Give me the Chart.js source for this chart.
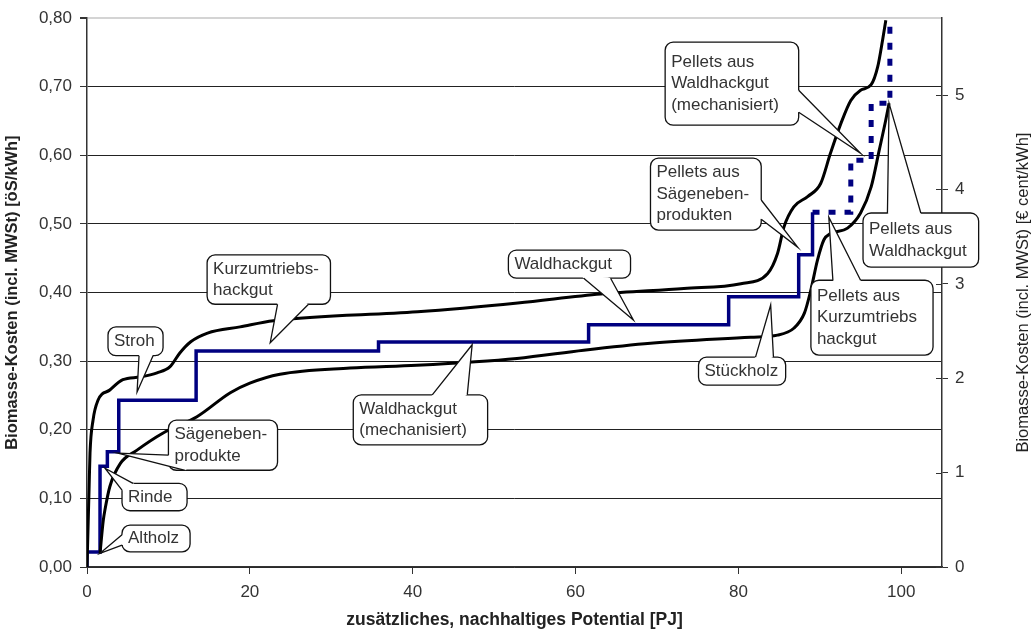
<!DOCTYPE html>
<html>
<head>
<meta charset="utf-8">
<script src="https://cdn.jsdelivr.net/npm/chart.js@4/dist/chart.umd.min.js"></script>
<style>
  html, body { margin: 0; padding: 0; background: #fff; }
  #wrap { width: 1033px; height: 631px; }
</style>
</head>
<body>
<div id="wrap"><canvas id="chart" width="1033" height="631"></canvas></div>
<script>
// Werte: x = Potential [PJ], y = Kosten [öS/kWh]

// obere Kostenkurve
const upperX = [0, 0.12, 0.25, 0.37, 0.74, 1.35, 2.8, 4.4, 6.5, 8.6, 10.2, 11.4, 12.7, 14.8, 18.8, 22.9,
  40.6, 52.9, 63.1, 73.3, 80.3, 83.6, 84.8, 85.6, 86.8, 88.5, 90.1, 91.3, 92.6, 93.8, 95.0, 96.3, 97.1, 97.7, 98.1];
const upperY = [0, 0.054, 0.112, 0.166, 0.214, 0.243, 0.258, 0.273, 0.277, 0.283, 0.292, 0.312, 0.328, 0.341, 0.35, 0.359,
  0.372, 0.385, 0.398, 0.406, 0.413, 0.428, 0.457, 0.496, 0.525, 0.54, 0.559, 0.603, 0.647, 0.68, 0.695, 0.703, 0.729, 0.768, 0.797];

// untere Kostenkurve
const lowerX = [1.6, 2.0, 2.2, 2.8, 4.1, 6.1, 9.3, 13.5, 17.6, 20.0, 23.7, 32.3, 40.5, 52.8, 61.0, 69.2, 81.5,
  84.8, 86.8, 88.1, 88.9, 89.7, 90.5, 91.3, 93.4, 95.0, 96.3, 97.3, 98.1, 98.5];
const lowerY = [0.02, 0.068, 0.083, 0.117, 0.151, 0.17, 0.195, 0.219, 0.254, 0.268, 0.281, 0.290, 0.294, 0.304, 0.316, 0.326, 0.335,
  0.338, 0.348, 0.37, 0.404, 0.447, 0.477, 0.486, 0.494, 0.516, 0.554, 0.608, 0.652, 0.676];

// Treppenkurve (Kosten je Biomasseart), Stufe endet bei x
const stepX = [0, 0, 1.6, 2.5, 3.9, 13.4, 35.8, 61.6, 78.8, 87.4, 89.1];
const stepY = [0, 0.022, 0.147, 0.168, 0.243, 0.315, 0.328, 0.353, 0.394, 0.455, 0.517];

// Pellets (strichliert)
const pelletX = [89.1, 93.8, 96.3, 98.6];
const pelletY = [0.517, 0.593, 0.676, 0.90];

const xTicks = [0, 20, 40, 60, 80, 100];
const euroTicks = [0, 1, 2, 3, 4, 5];
const euroRate = 13.7603; // öS je €

// Beschriftungen (Kasten, Keilbasis und Spitze in Datenkoordinaten)
const callouts = [
  { lines: ['Stroh'], box: [2.58, 0.350, 9.34, 0.308], base: [[6.39, 0.308], [8.11, 0.308]], tip: [6.15, 0.255] },
  { lines: ['Kurzumtriebs-', 'hackgut'], box: [14.75, 0.455, 29.9, 0.383], base: [[23.4, 0.383], [27.2, 0.383]], tip: [22.5, 0.327] },
  { lines: ['Sägeneben-', 'produkte'], box: [10.0, 0.214, 23.4, 0.141], base: [[10.0, 0.163], [12.05, 0.141]], tip: [3.8, 0.166] },
  { lines: ['Rinde'], box: [4.3, 0.122, 12.29, 0.082], base: [[4.3, 0.112], [5.65, 0.122]], tip: [2.21, 0.144] },
  { lines: ['Altholz'], box: [4.3, 0.061, 12.66, 0.022], base: [[4.3, 0.047], [4.3, 0.032]], tip: [1.6, 0.02] },
  { lines: ['Waldhackgut'], box: [51.75, 0.462, 66.75, 0.421], base: [[61.0, 0.421], [64.3, 0.421]], tip: [67.1, 0.360] },
  { lines: ['Waldhackgut', '(mechanisiert)'], box: [32.7, 0.251, 49.2, 0.178], base: [[42.4, 0.251], [46.7, 0.251]], tip: [47.3, 0.324] },
  { lines: ['Stückholz'], box: [75.1, 0.306, 85.8, 0.265], base: [[82.1, 0.306], [84.3, 0.306]], tip: [83.96, 0.382] },
  { lines: ['Pellets aus', 'Kurzumtriebs', 'hackgut'], box: [88.9, 0.418, 103.9, 0.309], base: [[91.6, 0.418], [95.0, 0.418]], tip: [91.1, 0.510] },
  { lines: ['Pellets aus', 'Waldhackgut'], box: [95.3, 0.516, 109.5, 0.437], base: [[98.3, 0.516], [102.4, 0.516]], tip: [98.5, 0.676] },
  { lines: ['Pellets aus', 'Sägeneben-', 'produkten'], box: [69.2, 0.596, 82.8, 0.491], base: [[82.8, 0.535], [82.8, 0.507]], tip: [87.3, 0.466] },
  { lines: ['Pellets aus', 'Waldhackgut', '(mechanisiert)'], box: [71.0, 0.765, 87.4, 0.644], base: [[87.4, 0.695], [87.4, 0.663]], tip: [95.0, 0.603] }
];

const FONT = '"Liberation Sans", Arial, sans-serif';
const toPoints = (xs, ys) => xs.map((v, i) => ({ x: v, y: ys[i] }));

function roundRectPath(ctx, x, y, w, h, r) {
  ctx.beginPath();
  ctx.moveTo(x + r, y);
  ctx.lineTo(x + w - r, y);
  ctx.arcTo(x + w, y, x + w, y + r, r);
  ctx.lineTo(x + w, y + h - r);
  ctx.arcTo(x + w, y + h, x + w - r, y + h, r);
  ctx.lineTo(x + r, y + h);
  ctx.arcTo(x, y + h, x, y + h - r, r);
  ctx.lineTo(x, y + r);
  ctx.arcTo(x, y, x + r, y, r);
  ctx.closePath();
}

const extrasPlugin = {
  id: 'extras',
  afterDraw(chart) {
    const { ctx, chartArea } = chart;
    const xs = chart.scales.x, ys = chart.scales.y, y1 = chart.scales.y1;
    ctx.save();

    // Teilstriche der rechten Achse auch nach innen
    ctx.strokeStyle = '#333';
    ctx.lineWidth = 1;
    y1.ticks.forEach(t => {
      const py = Math.round(y1.getPixelForValue(t.value)) + 0.5;
      ctx.beginPath();
      ctx.moveTo(chartArea.right - 6, py);
      ctx.lineTo(chartArea.right, py);
      ctx.stroke();
    });

    // rechter Achsentitel (von unten nach oben gelesen)
    ctx.save();
    ctx.translate(1023, (chartArea.top + chartArea.bottom) / 2);
    ctx.rotate(-Math.PI / 2);
    ctx.font = '16.5px ' + FONT;
    ctx.fillStyle = '#222';
    ctx.textAlign = 'center';
    ctx.textBaseline = 'middle';
    ctx.fillText('Biomasse-Kosten (incl. MWSt) [€ cent/kWh]', 0, 0);
    ctx.restore();

    // Sprechblasen
    const px = p => [xs.getPixelForValue(p[0]), ys.getPixelForValue(p[1])];
    callouts.forEach(c => {
      const [l, t] = px([c.box[0], c.box[1]]);
      const [r, b] = px([c.box[2], c.box[3]]);
      const tip = px(c.tip);
      const b1 = px(c.base[0]), b2 = px(c.base[1]);
      const cx = (l + r) / 2, cy = (t + b) / 2;
      const inset = p => {
        const dx = cx - p[0], dy = cy - p[1], d = Math.hypot(dx, dy) || 1;
        return [p[0] + dx / d * 3, p[1] + dy / d * 3];
      };
      ctx.lineWidth = 1.3;
      ctx.strokeStyle = '#111';
      ctx.fillStyle = '#fff';
      roundRectPath(ctx, l, t, r - l, b - t, 8);
      ctx.fill();
      ctx.stroke();

      const i1 = inset(b1), i2 = inset(b2);
      ctx.beginPath();
      ctx.moveTo(i1[0], i1[1]);
      ctx.lineTo(b1[0], b1[1]);
      ctx.lineTo(tip[0], tip[1]);
      ctx.lineTo(b2[0], b2[1]);
      ctx.lineTo(i2[0], i2[1]);
      ctx.closePath();
      ctx.fill();
      ctx.beginPath();
      ctx.moveTo(b1[0], b1[1]);
      ctx.lineTo(tip[0], tip[1]);
      ctx.lineTo(b2[0], b2[1]);
      ctx.stroke();

      ctx.font = '17px ' + FONT;
      ctx.fillStyle = '#333';
      ctx.textAlign = 'left';
      ctx.textBaseline = 'middle';
      const lh = 21.5;
      const y0 = cy - (c.lines.length - 1) * lh / 2;
      c.lines.forEach((s, i) => ctx.fillText(s, l + 6, y0 + i * lh));
    });
    ctx.restore();
  }
};

new Chart(document.getElementById('chart'), {
  type: 'line',
  data: {
    datasets: [
      {
        label: 'obere Kurve',
        data: toPoints(upperX, upperY),
        borderColor: '#000',
        borderWidth: 3,
        cubicInterpolationMode: 'monotone',
        pointRadius: 0
      },
      {
        label: 'untere Kurve',
        data: toPoints(lowerX, lowerY),
        borderColor: '#000',
        borderWidth: 3,
        cubicInterpolationMode: 'monotone',
        pointRadius: 0
      },
      {
        label: 'Biomasse',
        data: toPoints(stepX, stepY),
        borderColor: '#000080',
        borderWidth: 3.5,
        stepped: 'before',
        pointRadius: 0
      },
      {
        label: 'Pellets',
        data: toPoints(pelletX, pelletY),
        borderColor: '#000080',
        borderWidth: 5,
        borderDash: [7, 9],
        stepped: 'before',
        pointRadius: 0,
        clip: 0
      }
    ]
  },
  options: {
    responsive: false,
    animation: false,
    layout: { padding: { top: 18, left: 0, right: 0, bottom: 0 } },
    plugins: {
      legend: { display: false },
      tooltip: { enabled: false }
    },
    scales: {
      x: {
        type: 'linear',
        min: 0,
        max: 105,
        afterBuildTicks: s => { s.ticks = xTicks.map(v => ({ value: v })); },
        afterFit: s => { s.height = 64; },
        ticks: {
          font: { family: FONT, size: 17 },
          color: '#333',
          padding: 8,
          maxRotation: 0
        },
        grid: { drawOnChartArea: false, tickLength: 7, tickColor: '#333', lineWidth: 1 },
        border: { color: '#333', width: 1.5 },
        title: {
          display: true,
          text: 'zusätzliches, nachhaltiges Potential [PJ]',
          font: { family: FONT, size: 17.5, weight: 'bold' },
          color: '#222',
          padding: { top: 0, bottom: 0 }
        }
      },
      y: {
        position: 'left',
        min: 0,
        max: 0.8,
        afterFit: s => { s.width = 87; },
        ticks: {
          stepSize: 0.1,
          font: { family: FONT, size: 17 },
          color: '#333',
          padding: 8,
          callback: v => v.toFixed(2).replace('.', ',')
        },
        grid: {
          color: ctx => (ctx.tick && ctx.tick.value > 0.79 ? '#d4d4d4' : '#222'),
          lineWidth: ctx => (ctx.tick && ctx.tick.value > 0.79 ? 2 : 1),
          tickLength: 7,
          tickColor: '#333'
        },
        border: { color: '#333', width: 1.5 },
        title: {
          display: true,
          text: 'Biomasse-Kosten (incl. MWSt) [öS/kWh]',
          font: { family: FONT, size: 16.5, weight: 'bold' },
          color: '#222',
          padding: { top: 3, bottom: 0 }
        }
      },
      y1: {
        position: 'right',
        min: 0,
        max: 0.8 * 100 / euroRate,
        afterBuildTicks: s => { s.ticks = euroTicks.map(v => ({ value: v })); },
        afterFit: s => { s.width = 91; },
        ticks: {
          font: { family: FONT, size: 17 },
          color: '#333',
          padding: 7,
          callback: v => String(v)
        },
        grid: { drawOnChartArea: false, tickLength: 6, tickColor: '#333' },
        border: { color: '#333', width: 1.5 }
      }
    }
  },
  plugins: [extrasPlugin]
});
</script>
</body>
</html>
